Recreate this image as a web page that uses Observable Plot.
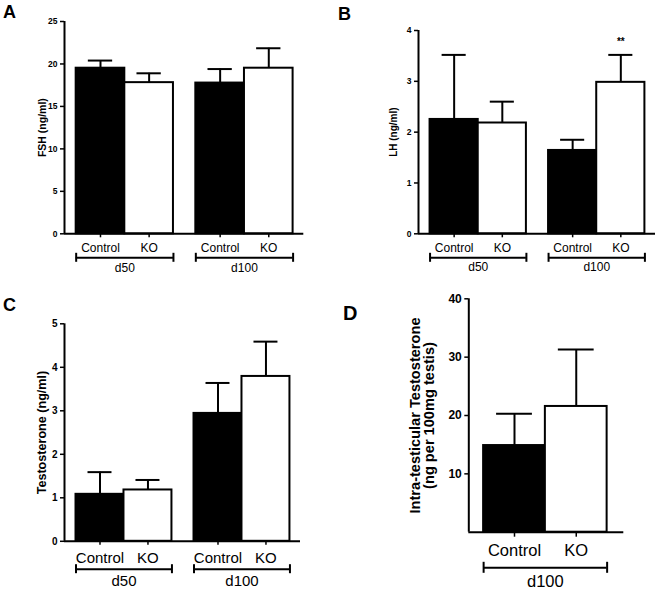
<!DOCTYPE html>
<html><head><meta charset="utf-8">
<script src="https://cdn.jsdelivr.net/npm/d3@7"></script>
<script src="https://cdn.jsdelivr.net/npm/@observablehq/plot@0.6"></script>
<style>
body{margin:0;background:#fff}
#fig{position:relative;width:661px;height:591px;font-family:"Liberation Sans",Arial,sans-serif;background:#fff;overflow:hidden}
.panel{position:absolute}
.letter{position:absolute;font-weight:bold;line-height:1;color:#000}
</style></head><body><div id="fig"></div>
<script>
// ---- data ----
const categories = ["Control", "KO"];
const groupsAB = ["d50", "d100"];
const groupsD = ["d100"];

const fshMean = [19.5, 17.8, 17.75, 19.5];
const fshErr  = [0.9, 1.1, 1.65, 2.35];

const lhMean = [2.25, 2.18, 1.64, 2.98];
const lhErr  = [1.27, 0.42, 0.21, 0.54];
const lhSig  = ["", "", "", "**"];

const tMean = [1.08, 1.18, 2.94, 3.79];
const tErr  = [0.51, 0.23, 0.70, 0.80];

const itMean = [14.85, 21.55];
const itErr  = [5.45, 9.75];

const ticksA = [0, 5, 10, 15, 20, 25];
const ticksB = [0, 1, 2, 3, 4];
const ticksC = [0, 1, 2, 3, 4, 5];
const ticksD = [10, 20, 30, 40];

// ---- drawing ----
const FONT = "Liberation Sans, Arial, sans-serif";

function panel(o) {
  const n = categories.length;
  const L = o.layout;
  const total = L.left + o.groups.length * n + (o.groups.length - 1) * L.gap + L.right;
  const rows = o.means.map((m, i) => {
    const g = Math.floor(i / n), c = i % n;
    const x1 = L.left + g * (n + L.gap) + c;
    return {group: o.groups[g], cat: categories[c], mean: m, err: o.errs[i],
            sig: o.sig ? o.sig[i] : "", x1, x2: x1 + 1, xc: x1 + 0.5};
  });
  const grp = o.groups.map((g, gi) => {
    const x1 = L.left + gi * (n + L.gap);
    return {group: g, x1, x2: x1 + n, xc: x1 + n / 2};
  });
  const ends = grp.flatMap(d => [{x: d.x1}, {x: d.x2}]);
  const cap = o.cap;
  const plot = Plot.plot({
    width: o.width, height: o.height,
    marginTop: o.m[0], marginRight: o.m[1], marginBottom: o.m[2], marginLeft: o.m[3],
    style: {fontFamily: FONT, background: "transparent", overflow: "visible", color: "black"},
    x: {domain: [0, total]},
    y: {domain: o.yDomain},
    color: {domain: categories, range: ["black", "white"]},
    marks: [
      Plot.rectY(rows, {x1: "x1", x2: "x2", y1: 0, y2: "mean", fill: "cat", stroke: "black", strokeWidth: 2}),
      Plot.ruleX(rows, {x: "xc", y1: "mean", y2: d => d.mean + d.err, strokeWidth: 2}),
      Plot.ruleY(rows, {y: d => d.mean + d.err, x1: d => d.xc - cap, x2: d => d.xc + cap, strokeWidth: 2}),
      Plot.ruleX([0], {strokeWidth: 2}),
      Plot.ruleY([0], {strokeWidth: 2}),
      Plot.axisY({ticks: o.yTicks, tickFormat: d3.format("d"), tickSize: 4, tickPadding: 3, fontSize: o.tickFs, fontWeight: "bold", strokeWidth: 1.5, label: null}),
      Plot.axisX({ticks: rows.map(d => d.xc), tickSize: o.xTick, tickFormat: () => "", strokeWidth: 1.5, label: null}),
      Plot.text(rows, {x: "xc", y: 0, text: "cat", dy: o.catDy, lineAnchor: "bottom", fontSize: o.catFs}),
      Plot.ruleY(grp, {x1: "x1", x2: "x2", y: 0, dy: o.brDy, strokeWidth: 2}),
      Plot.ruleX(ends, {x: "x", y1: 0, y2: 0, dy: o.brDy, insetTop: -o.capH, insetBottom: -o.capH, strokeWidth: 2}),
      Plot.text(grp, {x: "xc", y: 0, text: "group", dy: o.grpDy, lineAnchor: "bottom", fontSize: o.catFs}),
      Plot.text(rows.filter(d => d.sig), {x: "xc", y: d => d.mean + d.err, text: "sig", dy: -13, fontSize: 10, fontWeight: "bold"}),
      Plot.text([o.yLabel], {frameAnchor: "left", textAnchor: "middle", lineAnchor: "middle", rotate: -90, dx: o.labDx, fontSize: o.labFs, fontWeight: "bold", lineHeight: o.labLh || 1})
    ]
  });
  plot.classList.add("panel");
  plot.style.left = o.left + "px";
  plot.style.top = o.top + "px";
  return plot;
}

const fig = document.getElementById("fig");
const L4 = {left: 0.24, gap: 0.46, right: 0.22};

fig.appendChild(panel({
  left: 0, top: 0, width: 330, height: 295, m: [21, 26.7, 61.7, 64],
  means: fshMean, errs: fshErr, groups: groupsAB, layout: L4, cap: 0.25,
  yDomain: [0, 25], yTicks: ticksA, tickFs: 8.5, xTick: 4,
  yLabel: "FSH (ng/ml)", labFs: 10.5, labDx: -21.7,
  catFs: 12, catDy: 18.4, brDy: 24, capH: 4.5, grpDy: 38.4
}));
fig.appendChild(panel({
  left: 330, top: 0, width: 331, height: 295, m: [30, 6, 61.7, 88],
  means: lhMean, errs: lhErr, sig: lhSig, groups: groupsAB, layout: L4, cap: 0.25,
  yDomain: [0, 4], yTicks: ticksB, tickFs: 8.5, xTick: 4,
  yLabel: "LH (ng/ml)", labFs: 10, labDx: -24.7,
  catFs: 12, catDy: 18.4, brDy: 24, capH: 4.5, grpDy: 37.5
}));
fig.appendChild(panel({
  left: 0, top: 295, width: 330, height: 296, m: [28.3, 30, 50.2, 64],
  means: tMean, errs: tErr, groups: groupsAB, layout: L4, cap: 0.25,
  yDomain: [0, 5], yTicks: ticksC, tickFs: 10, xTick: 4,
  yLabel: "Testosterone (ng/ml)", labFs: 12.6, labDx: -22.3,
  catFs: 15, catDy: 21.5, brDy: 27.9, capH: 4.5, grpDy: 44.9
}));
fig.appendChild(panel({
  left: 330, top: 295, width: 331, height: 296, m: [3.3, 37.7, 59.3, 138.3],
  means: itMean, errs: itErr, groups: groupsD, layout: {left: 0.24, gap: 0.47, right: 0.27}, cap: 0.29,
  yDomain: [0, 40], yTicks: ticksD, tickFs: 12, xTick: 5,
  yLabel: "Intra-testicular Testosterone\n(ng per 100mg testis)", labFs: 14.6, labLh: 0.98, labDx: -46.1,
  catFs: 16.5, catDy: 24, brDy: 35.6, capH: 5.5, grpDy: 55
}));

const letters = [
  {t: "A", x: 3, top: 2.8, fs: 18},
  {t: "B", x: 338, top: 4.5, fs: 18},
  {t: "C", x: 3, top: 295.8, fs: 18},
  {t: "D", x: 343, top: 303.1, fs: 20}
];
for (const l of letters) {
  const d = document.createElement("div");
  d.className = "letter";
  d.textContent = l.t;
  d.style.left = l.x + "px";
  d.style.top = l.top + "px";
  d.style.fontSize = l.fs + "px";
  fig.appendChild(d);
}
</script>
</body></html>
